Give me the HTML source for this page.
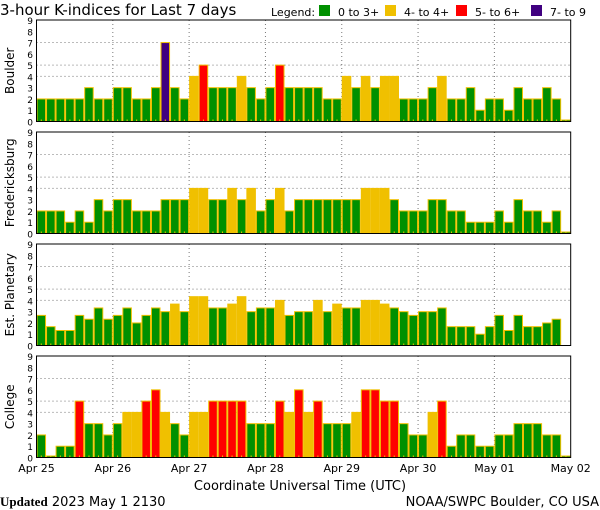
<!DOCTYPE html>
<html><head><meta charset="utf-8">
<style>
html,body{margin:0;padding:0;background:#fff;}
#wrap{position:relative;width:600px;height:510px;overflow:hidden;font-family:"DejaVu Sans","Liberation Sans",sans-serif;}
svg text{font-family:"DejaVu Sans","Liberation Sans",sans-serif;}
</style></head><body>
<div id="wrap">
<svg id="chart" width="600" height="510" xmlns="http://www.w3.org/2000/svg">
  <text x="0" y="15" font-size="15" fill="#000">3-hour K-indices for Last 7 days</text>
  <g font-size="11">
    <text x="271" y="16">Legend:</text>
    <rect x="319" y="5" width="11" height="11" fill="#009000"/>
    <text x="338" y="16">0 to 3+</text>
    <rect x="385" y="5" width="11" height="11" fill="#f0c000"/>
    <text x="404" y="16">4- to 4+</text>
    <rect x="456" y="5" width="11" height="11" fill="#ff0000"/>
    <text x="475" y="16">5- to 6+</text>
    <rect x="531" y="5" width="11" height="11" fill="#400080"/>
    <text x="550" y="16">7- to 9</text>
  </g>
  <g id="panels"></g>
  <g id="xaxis" font-size="11"></g>
  <text x="300" y="490" font-size="13" text-anchor="middle">Coordinate Universal Time (UTC)</text>
  <text x="0" y="506" font-size="13"><tspan font-family="Liberation Serif, serif" font-weight="bold">Updated</tspan> 2023 May  1 2130</text>
  <text x="599" y="506" font-size="13" text-anchor="end">NOAA/SWPC Boulder, CO USA</text>
</svg>
</div>
<script>
const dayLabels = ["Apr 25","Apr 26","Apr 27","Apr 28","Apr 29","Apr 30","May 01","May 02"];
const stationNames = ["Boulder","Fredericksburg","Est. Planetary","College"];
const boulder = [2,2,2,2,2,3,2,2, 3,3,2,2,3,7,3,2, 4,5,3,3,3,4,3,2, 3,5,3,3,3,3,2,2, 4,3,4,3,4,4,2,2, 2,3,4,2,2,3,1,2, 2,1,3,2,2,3,2,0];
const fredericksburg = [2,2,2,1,2,1,3,2, 3,3,2,2,2,3,3,3, 4,4,3,3,4,3,4,2, 3,4,2,3,3,3,3,3, 3,3,4,4,4,3,2,2, 2,3,3,2,2,1,1,1, 2,1,3,2,2,1,2,0];
const estPlanetary = [2.67,1.67,1.33,1.33,2.67,2.33,3.33,2.33, 2.67,3.33,2,2.67,3.33,3,3.67,3, 4.33,4.33,3.33,3.33,3.67,4.33,3,3.33, 3.33,4,2.67,3,3,4,3,3.67, 3.33,3.33,4,4,3.67,3.33,3,2.67, 3,3,3.33,1.67,1.67,1.67,1,1.67, 2.67,1.33,2.67,1.67,1.67,2,2.33,null];
const college = [2,0,1,1,5,3,3,2, 3,4,4,5,6,4,3,2, 4,4,5,5,5,5,3,3, 3,5,4,6,4,5,3,3, 3,4,6,6,5,5,3,2, 2,4,5,1,2,2,1,1, 2,2,3,3,3,2,2,0];
const yTicks = [0,1,2,3,4,5,6,7,8,9];
const gridLevels = [4,5,7];

const series = [boulder, fredericksburg, estPlanetary, college];
const NS = "http://www.w3.org/2000/svg";
const X0 = 36.5, X1 = 570.7, NBARS = 56;
const panelTops = [20, 132, 244, 356];
const PH = 101.5;
const bw = (X1 - X0) / NBARS;
function xScale(i){ return X0 + i * bw; }
function dayX(d){ return X0 + d * 8 * bw; }
function mk(tag, attrs, parent){
  const e = document.createElementNS(NS, tag);
  for (const k in attrs) e.setAttribute(k, attrs[k]);
  parent.appendChild(e); return e;
}
function color(v){ if (v >= 6.5) return "#400080"; if (v >= 4.5) return "#ff0000"; if (v >= 3.5) return "#f0c000"; return "#009000"; }
const panels = document.getElementById("panels");
series.forEach((data, p) => {
  const top = panelTops[p], bot = top + PH;
  const yScale = v => bot - v * PH / 9;
  const g = mk("g", {}, panels);
  
  
  gridLevels.forEach(l => {
    const ln = mk("line", {x1:X0, x2:X1, y1:yScale(l), y2:yScale(l), stroke:"#777", "stroke-dasharray":"1,3", "stroke-width":1}, g);
    
    
  });
  for (let d = 1; d < 7; d++){
    const ln = mk("line", {x1:dayX(d), x2:dayX(d), y1:top, y2:bot, stroke:"#777", "stroke-dasharray":"1,3", "stroke-width":1}, g);
    
    
  }
  data.forEach((v, i) => {
    if (v === null) return;
    const y = v > 0 ? yScale(v) : bot - 1.5;
    const r = mk("rect", {x:xScale(i)+0.5, y:y, width:bw-1, height:bot-y, fill:color(v), stroke:"#f0c000", "stroke-width":1}, g);
    
    
    const t = mk("line", {x1:xScale(i)+bw/2, x2:xScale(i)+bw/2, y1:bot-2, y2:bot, stroke:"#f0c000", "stroke-width":1}, g);
    
    
  });
  const fr = mk("rect", {x:X0, y:top, width:X1-X0, height:PH, fill:"none", stroke:"#000", "stroke-width":1}, g);
  
  
  yTicks.forEach(t => {
    const tx = mk("text", {x:33, y:yScale(t)+4, "font-size":9, "text-anchor":"end"}, g);
    tx.textContent = t;
    
    
  });
  const cy = top + PH/2;
  const lab = mk("text", {x:14, y:cy, "font-size":12, "text-anchor":"middle", transform:"rotate(-90 14 " + cy + ")"}, g);
  lab.textContent = stationNames[p];
  
  
});
const xa = document.getElementById("xaxis");
dayLabels.forEach((l, d) => {
  const tx = mk("text", {x:dayX(d), y:472, "text-anchor":"middle"}, xa);
  tx.textContent = l;
  
  
});
</script>
</body></html>
